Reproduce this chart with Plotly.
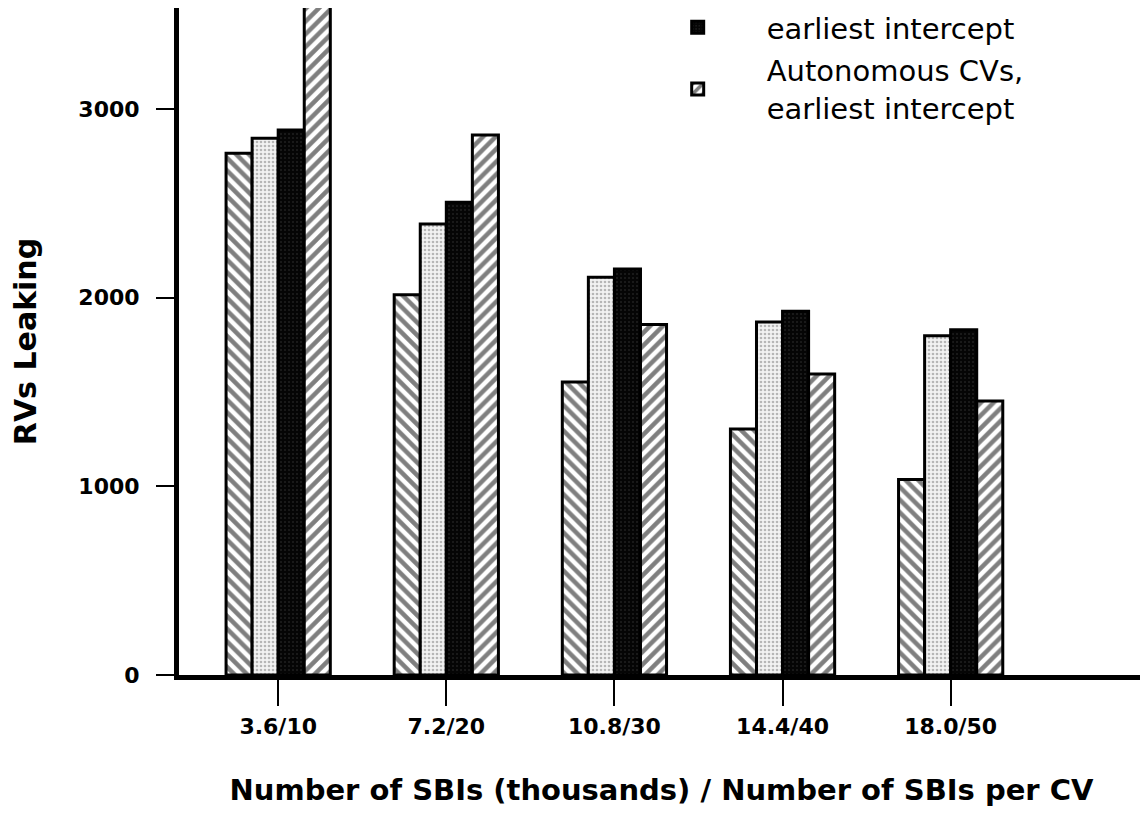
import plotly.graph_objects as go

categories = ["3.6/10", "7.2/20", "10.8/30", "14.4/40", "18.0/50"]
series1 = [2765, 2015, 1553, 1304, 1036]
series2 = [2845, 2390, 2108, 1871, 1798]
series3 = [2888, 2506, 2152, 1928, 1830]
series4 = [3550, 2862, 1857, 1595, 1452]

name3 = "earliest intercept"
name4 = "Autonomous CVs,<br>earliest intercept"

FONT = "DejaVu Sans"

fig = go.Figure()
fig.add_trace(go.Bar(
    x=categories, y=series1, name="series 1", showlegend=False,
    marker=dict(color="white", line=dict(color="black", width=3),
                pattern=dict(shape="\\", fgcolor="black", bgcolor="white",
                             size=9, solidity=0.5)),
))
fig.add_trace(go.Bar(
    x=categories, y=series2, name="series 2", showlegend=False,
    marker=dict(color="#eeeeee", line=dict(color="black", width=3),
                pattern=dict(shape=".", fgcolor="#7a7a7a", bgcolor="#f2f2f2",
                             size=4, solidity=0.35)),
))
fig.add_trace(go.Bar(
    x=categories, y=series3, name=name3, legendgroup="g3",
    marker=dict(color="#080808", line=dict(color="black", width=3),
                pattern=dict(shape=".", fgcolor="#3a3a3a", bgcolor="#050505",
                             size=4, solidity=0.2)),
))
fig.add_trace(go.Bar(
    x=categories, y=series4, name=name4, legendgroup="g4",
    marker=dict(color="white", line=dict(color="black", width=3),
                pattern=dict(shape="/", fgcolor="black", bgcolor="white",
                             size=9, solidity=0.5)),
))

fig.update_layout(
    width=1148, height=815,
    paper_bgcolor="white", plot_bgcolor="white",
    margin=dict(l=171, r=12, t=0, b=148, autoexpand=False),
    barmode="group", bargap=0.38, bargroupgap=0.0,
    font=dict(family=FONT, color="black"),
    legend=dict(
        x=0.466, y=1.009, xanchor="left", yanchor="top",
        bgcolor="rgba(0,0,0,0)", borderwidth=0,
        font=dict(family=FONT, size=29, color="black"),
        itemwidth=128, tracegroupgap=2,
    ),
)

fig.update_xaxes(
    type="category", range=[-0.59, 5.15],
    showline=True, linecolor="black", linewidth=5,
    ticks="outside", ticklen=26, tickwidth=2, tickcolor="black",
    ticklabelstandoff=2,
    tickfont=dict(family=FONT, size=22, color="black", weight="bold"),
    showgrid=False, zeroline=False,
    title=dict(text="Number of SBIs (thousands) / Number of SBIs per CV",
               font=dict(family=FONT, size=29, color="black", weight="bold"),
               standoff=43),
)
fig.update_yaxes(
    range=[0, 3535],
    tickvals=[0, 1000, 2000, 3000],
    showline=True, linecolor="black", linewidth=5,
    ticks="outside", ticklen=18, tickwidth=2, tickcolor="black",
    ticklabelstandoff=12,
    tickfont=dict(family=FONT, size=22, color="black", weight="bold"),
    showgrid=False, zeroline=False,
    title=dict(text="RVs Leaking",
               font=dict(family=FONT, size=30, color="black", weight="bold"),
               standoff=42),
)

fig.write_html("out.html")
